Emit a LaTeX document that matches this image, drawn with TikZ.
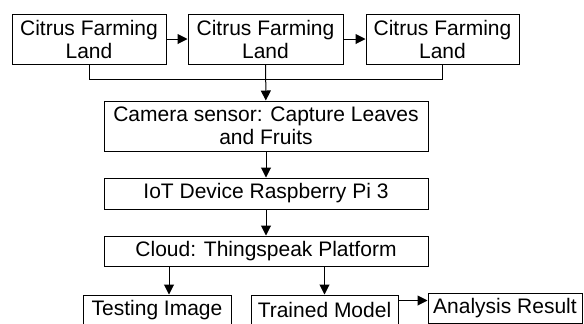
\documentclass[tikz,border=0pt]{standalone}
\usepackage{fontspec}
\setmainfont{Liberation Sans}
\usepackage{tikz}
\usetikzlibrary{positioning, arrows.meta}

\begin{document}
\begin{tikzpicture}[
    x=0.5pt, y=-0.5pt,
    bbox/.style={draw, line width=0.5pt, inner sep=0pt, align=center, font=\fontsize{10.5}{11.5}\selectfont},
    arr/.style={line width=0.5pt, -{Triangle[length=5pt, width=5pt]}}
]
\useasboundingbox (0,0) rectangle (584,323);
\node[bbox, minimum width=77pt, minimum height=25pt] (land1) at (89, 39) {Citrus Farming\\Land};
\node[bbox, minimum width=77.5pt, minimum height=25pt] (land2) at (265.5, 39) {Citrus Farming\\Land};
\node[bbox, minimum width=76.5pt, minimum height=25pt] (land3) at (442.5, 39) {Citrus Farming\\Land};
\node[bbox, minimum width=162pt, minimum height=25pt] (cam) at (266, 126) {Camera sensor: Capture Leaves\\and Fruits};
\node[bbox, minimum width=162pt, minimum height=15.5pt] (iot) at (266, 193.5) {IoT Device Raspberry Pi 3};
\node[bbox, minimum width=162pt, minimum height=15pt] (cloud) at (266, 251) {Cloud: Thingspeak Platform};
\node[bbox, minimum width=74pt, minimum height=15pt] (test) at (157, 310) {Testing Image};
\node[bbox, minimum width=73.5pt, minimum height=15pt] (model) at (324.5, 310) {Trained Model};
\node[bbox, minimum width=77pt, minimum height=15pt] (result) at (505, 308) {Analysis Result};

\draw[arr] (land1) -- (land2);
\draw[arr] (land2) -- (land3);
\draw[line width=0.5pt] (land1.south) -- ++(0, 15) -| (land3.south);
\draw[arr] (land2) -- (cam);
\draw[arr] (cam) -- (iot);
\draw[arr] (iot) -- (cloud);
\draw[arr] ([xshift=6pt]test.north |- cloud.south) -- ([xshift=6pt]test.north);
\draw[arr] (model.north |- cloud.south) -- (model.north);
\draw[arr] ([yshift=-3pt]model.north east) -- ([yshift=-3pt]model.north east -| result.west);
\end{tikzpicture}
\end{document}
